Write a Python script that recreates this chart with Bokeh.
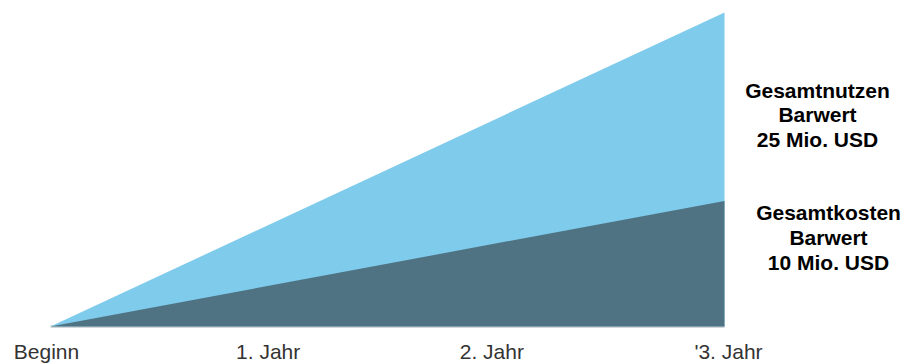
from bokeh.plotting import figure
from bokeh.models import Range1d, ColumnDataSource
from bokeh.core.properties import value
from bokeh.embed import file_html
from bokeh.resources import INLINE

# Data
years = [0, 3]
benefit = [0, 25]   # Gesamtnutzen Barwert (Mio. USD)
cost = [0, 10]      # Gesamtkosten Barwert (Mio. USD)
tick_pos = [0, 1, 2, 3]
tick_labels = ["Beginn", "1. Jahr", "2. Jahr", "'3. Jahr"]
ann_x = [3.414, 3.463]
ann_y = [16.85, 7.1]
ann_text = ["Gesamtnutzen\nBarwert\n25 Mio. USD", "Gesamtkosten\nBarwert\n10 Mio. USD"]

PX_X = 224.67
PX_Y = 12.56
p = figure(width=906, height=364, output_backend="svg", toolbar_location=None,
           x_range=Range1d(-50 / PX_X, (906 - 50) / PX_X),
           y_range=Range1d(-(364 - 326) / PX_Y, 25 + 12 / PX_Y),
           min_border=0, min_border_left=0, min_border_right=0,
           min_border_top=0, min_border_bottom=0)
p.axis.visible = False
p.grid.visible = False
p.outline_line_color = None
p.background_fill_color = "white"
p.border_fill_color = "white"

p.line([years[0], years[-1]], [0, 0], line_color="#d6d6d6", line_width=3)
p.varea(x=years, y1=[0, 0], y2=benefit, fill_color="#7FCBEB")
p.varea(x=years, y1=[0, 0], y2=cost, fill_color="#4F7383")

src = ColumnDataSource(dict(x=tick_pos, y=[-2.0] * 4, t=tick_labels, dx=[-4, -7, -8, 4]))
p.text(x="x", y="y", text="t", x_offset="dx", source=src,
       text_font=value("Liberation Sans"), text_font_size="21px",
       text_color="#333333", text_align="center", text_baseline="middle")

src2 = ColumnDataSource(dict(x=ann_x, y=ann_y, t=ann_text))
p.text(x="x", y="y", text="t", source=src2,
       text_font=value("Liberation Sans"), text_font_size="21px", text_font_style="bold",
       text_color="#000000", text_align="center", text_baseline="middle",
       text_line_height=1.08)

open("out.html", "w").write(file_html(p, INLINE))
